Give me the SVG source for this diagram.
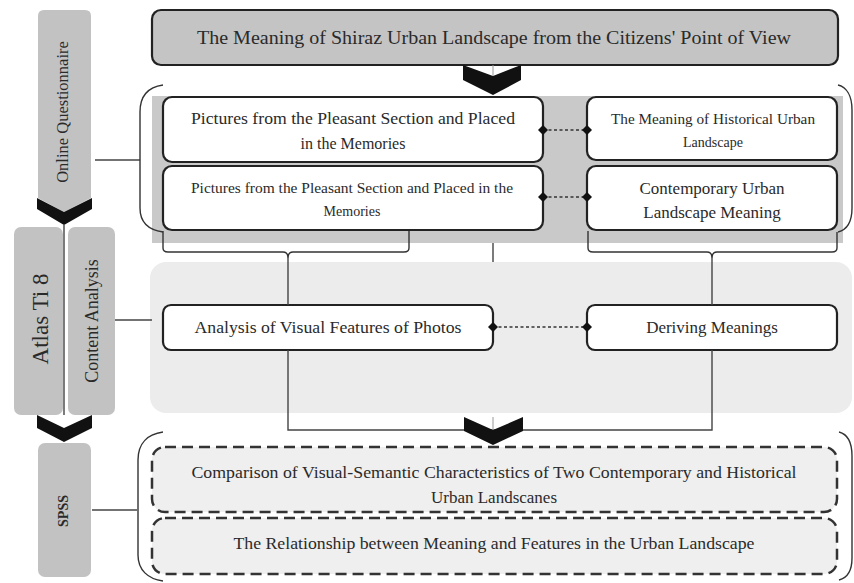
<svg xmlns="http://www.w3.org/2000/svg" xmlns:xlink="http://www.w3.org/1999/xlink" width="854" height="583" viewBox="0 0 854 583">
<style>
  text { font-family: "Liberation Serif", "Times New Roman", serif; fill: #2a2a2a; text-anchor: middle; }
  .box { fill: #ffffff; stroke: #222; stroke-width: 2.2; }
  .bar { fill: #c2c2c2; }
  .chev { fill: #111; }
  .line { fill: none; stroke: #444; stroke-width: 1.4; }
  .brace { fill: none; stroke: #333; stroke-width: 1.4; }
  .dash { fill: none; stroke: #333; stroke-width: 1.3; stroke-dasharray: 3 2.5; }
  .dbox { fill: #efefef; stroke: #333; stroke-width: 2.5; stroke-dasharray: 11 6; }
</style>
<defs>
  <path id="dia" d="M-5,0 L0,-5 L5,0 L0,5 Z" fill="#111"/>
</defs>
<rect width="854" height="583" fill="#ffffff"/>

<!-- background bands -->
<rect x="152" y="96" width="691" height="147" fill="#c9c9c9"/>
<rect x="150" y="262" width="702" height="151" rx="16" fill="#ececec"/>

<!-- left side bars -->
<g id="online-questionnaire">
  <path class="bar" d="M38,16 Q38,10 44,10 L85,10 Q91,10 91,16 L91,198 L64,212 L38,198 Z"/>
  <path class="chev" d="M37,198 L64,212 L92,198 L92,209 L64,225 L37,209 Z"/>
  <text transform="translate(68,112) rotate(-90)" font-size="16.5">Online Questionnaire</text>
</g>
<g id="atlas-ti">
  <rect class="bar" x="14" y="227" width="49" height="188" rx="7"/>
  <text transform="translate(48,319) rotate(-90)" font-size="23">Atlas Ti 8</text>
</g>
<g id="content-analysis">
  <rect class="bar" x="68" y="227" width="47" height="188" rx="7"/>
  <text transform="translate(98,321) rotate(-90)" font-size="18">Content Analysis</text>
</g>
<g id="chevron-left-2">
  <path class="chev" d="M37,415 L64,428 L92,415 L92,428 L64,442 L37,428 Z"/>
</g>
<g id="spss">
  <rect class="bar" x="38" y="443" width="53" height="134" rx="7"/>
  <text transform="translate(68,511) rotate(-90)" font-size="14" font-weight="bold">SPSS</text>
</g>

<!-- title -->
<g id="title">
  <rect x="152" y="10" width="686" height="55" rx="9" fill="#c4c4c4" stroke="#222" stroke-width="2.2"/>
  <text x="494" y="44" font-size="18.5" textLength="594" lengthAdjust="spacingAndGlyphs">The Meaning of Shiraz Urban Landscape from the Citizens' Point of View</text>
</g>

<!-- top nodes -->
<g id="pictures-1">
  <rect class="box" x="163" y="97" width="380" height="65" rx="9"/>
  <text x="353" y="124" font-size="16" textLength="324" lengthAdjust="spacingAndGlyphs">Pictures from the Pleasant Section and Placed</text>
  <text x="353" y="149" font-size="16">in the Memories</text>
</g>
<g id="pictures-2">
  <rect class="box" x="163" y="166" width="380" height="64" rx="9"/>
  <text x="352" y="193" font-size="14" textLength="322" lengthAdjust="spacingAndGlyphs">Pictures from the Pleasant Section and Placed in the</text>
  <text x="352" y="216" font-size="14">Memories</text>
</g>
<g id="historical-meaning">
  <rect class="box" x="587" y="97" width="250" height="63" rx="9"/>
  <text x="713" y="124" font-size="14" textLength="204" lengthAdjust="spacingAndGlyphs">The Meaning of Historical Urban</text>
  <text x="713" y="147" font-size="14">Landscape</text>
</g>
<g id="contemporary-meaning">
  <rect class="box" x="587" y="166" width="250" height="64" rx="9"/>
  <text x="712" y="194" font-size="17">Contemporary Urban</text>
  <text x="712" y="218" font-size="17">Landscape Meaning</text>
</g>

<!-- middle nodes -->
<g id="analysis">
  <rect class="box" x="163" y="305" width="330" height="45" rx="8"/>
  <text x="328" y="333" font-size="16" textLength="267" lengthAdjust="spacingAndGlyphs">Analysis of Visual Features of Photos</text>
</g>
<g id="deriving">
  <rect class="box" x="587" y="305" width="250" height="45" rx="8"/>
  <text x="712" y="333" font-size="17">Deriving Meanings</text>
</g>

<!-- bottom nodes -->
<g id="comparison">
  <rect class="dbox" x="152" y="447" width="685" height="65" rx="13"/>
  <text x="494" y="478" font-size="17" textLength="605" lengthAdjust="spacingAndGlyphs">Comparison of Visual-Semantic Characteristics of Two Contemporary and Historical</text>
  <text x="494" y="503" font-size="17">Urban Landscanes</text>
</g>
<g id="relationship">
  <rect class="dbox" x="152" y="518" width="685" height="56" rx="13"/>
  <text x="494" y="549" font-size="17" textLength="521" lengthAdjust="spacingAndGlyphs">The Relationship between Meaning and Features in the Urban Landscape</text>
</g>

<!-- connectors -->
<g id="connectors">
  <line class="line" x1="64" y1="225" x2="64" y2="415"/>
  <line class="line" x1="95" y1="160" x2="140" y2="160"/>
  <line class="line" x1="115" y1="320" x2="152" y2="320"/>
  <line class="line" x1="92" y1="510" x2="137" y2="510"/>
  <!-- top braces -->
  <path class="brace" d="M163,85 C149,87 140,95 140,112 L140,208 C140,223 149,230 163,232"/>
  <path class="brace" d="M838,85 C846,87 852,95 852,110 L852,208 C852,223 846,230 838,232"/>
  <!-- lower brackets -->
  <path class="brace" d="M163,231 L163,248 Q163,252 168,252 L283,252 Q288,252 288,258 Q288,252 293,252 L404,252 Q409,252 409,248 L409,231"/>
  <path class="brace" d="M588,231 L588,248 Q588,252 593,252 L707,252 Q712,252 712,258 Q712,252 717,252 L832,252 Q837,252 837,248 L837,232"/>
  <line class="line" x1="493" y1="243" x2="493" y2="262"/>
  <line class="line" x1="288" y1="258" x2="288" y2="305"/>
  <line class="line" x1="712" y1="258" x2="712" y2="305"/>
  <path class="line" d="M288,350 L288,430 L712,430 L712,350"/>
  <!-- dashed links -->
  <line class="dash" x1="543" y1="130" x2="587" y2="130"/>
  <use xlink:href="#dia" href="#dia" x="543" y="130"/>
  <use xlink:href="#dia" href="#dia" x="587" y="130"/>
  <line class="dash" x1="543" y1="197" x2="587" y2="197"/>
  <use xlink:href="#dia" href="#dia" x="543" y="197"/>
  <use xlink:href="#dia" href="#dia" x="587" y="197"/>
  <line class="dash" x1="493" y1="327" x2="587" y2="327"/>
  <use xlink:href="#dia" href="#dia" x="493" y="327"/>
  <use xlink:href="#dia" href="#dia" x="587" y="327"/>
  <!-- bottom braces -->
  <path class="brace" d="M163,432 C148,434 138,443 138,460 L138,555 C138,570 148,579 163,581"/>
  <path class="brace" d="M839,432 C847,434 852,442 852,456 L852,558 C852,571 847,578 839,580"/>
  <!-- chevrons -->
  <path class="chev" d="M463,65 L493,76 L521,65 L521,80 L493,95 L463,80 Z"/>
  <line x1="493" y1="65" x2="493" y2="76" stroke="#999" stroke-width="1"/>
  <path class="chev" d="M464,417 L493,430 L523,417 L523,431 L493,445 L464,431 Z"/>
  <line x1="493" y1="417" x2="493" y2="430" stroke="#999" stroke-width="1"/>
</g>
</svg>
